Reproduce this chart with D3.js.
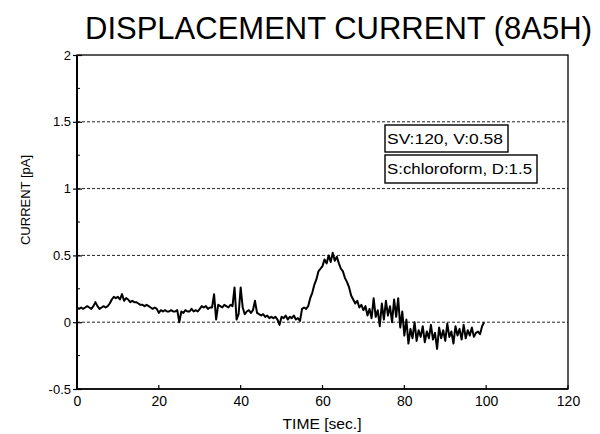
<!DOCTYPE html>
<html><head><meta charset="utf-8">
<script src="https://cdn.jsdelivr.net/npm/d3@7/dist/d3.min.js"></script>
<style>body{margin:0;background:#fff}svg{display:block}text{font-family:"Liberation Sans",Arial,sans-serif;fill:#000}</style>
</head><body><svg id="c" width="600" height="434"></svg>
<script>
// Data (time step 0.5 s, starting at 0)
const timeStep = 0.5;
const current = [
 0.11,0.10,0.11,0.10,0.11,0.12,0.11,0.10,0.12,0.15,
 0.12,0.10,0.11,0.12,0.11,0.12,0.14,0.17,0.19,0.18,
 0.19,0.17,0.21,0.16,0.18,0.17,0.15,0.16,0.15,0.15,
 0.14,0.13,0.13,0.12,0.13,0.12,0.11,0.10,0.11,0.10,
 0.07,0.09,0.08,0.09,0.08,0.08,0.09,0.08,0.08,0.09,
 0.00,0.08,0.07,0.09,0.08,0.08,0.10,0.08,0.09,0.08,
 0.10,0.12,0.11,0.12,0.10,0.11,0.11,0.21,0.02,0.13,
 0.12,0.11,0.13,0.12,0.11,0.13,0.12,0.26,0.02,0.06,
 0.26,0.11,0.06,0.08,0.09,0.07,0.09,0.16,0.07,0.06,
 0.05,0.06,0.04,0.05,0.03,0.04,0.03,0.04,0.02,-0.02,
 0.04,0.03,0.05,0.02,0.04,0.03,0.05,0.02,0.03,0.01,
 0.10,0.11,0.10,0.12,0.18,0.22,0.28,0.32,0.38,0.40,
 0.42,0.47,0.44,0.50,0.45,0.52,0.46,0.49,0.44,0.40,
 0.38,0.33,0.30,0.26,0.20,0.17,0.14,0.16,0.11,0.13,
 0.09,0.12,0.05,0.10,0.03,0.18,0.04,0.09,-0.03,0.14,
 0.02,0.16,0.05,0.12,0.00,0.17,0.04,0.18,-0.04,0.08,
 -0.10,0.02,-0.16,-0.05,-0.12,0.00,-0.14,-0.06,-0.11,-0.03,
 -0.15,-0.07,-0.12,-0.02,-0.13,-0.08,-0.20,-0.04,-0.12,-0.06,
 -0.14,-0.01,-0.11,-0.07,-0.16,-0.03,-0.10,-0.05,-0.13,-0.02,
 -0.12,-0.06,-0.10,-0.04,-0.11,-0.08,-0.07,-0.09,-0.03,0.00
];
const xTicks = [0,20,40,60,80,100,120];
const yTicks = [-0.5,0,0.5,1,1.5,2];
const yTickLabels = ["-0.5","0","0.5","1","1.5","2"];
const gridValues = [0,0.5,1,1.5];
const title = "DISPLACEMENT CURRENT (8A5H)";
const xTitle = "TIME [sec.]";
const yTitle = "CURRENT [pA]";
const legendLines = ["SV:120, V:0.58","S:chloroform, D:1.5"];

const svg = d3.select("#c");
const L=77, R=568, T=55, B=389;
const x = d3.scaleLinear().domain([0,120]).range([L,R]);
const y = d3.scaleLinear().domain([-0.5,2]).range([B,T]);

// title
svg.append("text").attr("x",85).attr("y",39).attr("font-size",31)
  .attr("textLength",507).attr("lengthAdjust","spacingAndGlyphs").text(title);

// grid
svg.append("g").selectAll("line").data(gridValues).join("line")
  .attr("x1",L).attr("x2",R).attr("y1",d=>y(d)).attr("y2",d=>y(d))
  .attr("stroke","#222").attr("stroke-width",1).attr("stroke-dasharray","3,2");

// frame
svg.append("rect").attr("x",L).attr("y",T).attr("width",R-L).attr("height",B-T)
  .attr("fill","none").attr("stroke","#000").attr("stroke-width",1.3);
svg.append("line").attr("x1",L).attr("x2",L).attr("y1",T).attr("y2",B).attr("stroke","#000").attr("stroke-width",2);
svg.append("line").attr("x1",L).attr("x2",R).attr("y1",B).attr("y2",B).attr("stroke","#000").attr("stroke-width",1.6);

// y axis
const yAxis = d3.axisLeft(y).tickValues(yTicks).tickSize(5).tickFormat((d,i)=>yTickLabels[i]);
const gy = svg.append("g").attr("transform",`translate(${L},0)`).call(yAxis);
gy.select(".domain").remove();
gy.selectAll(".tick line").attr("x2",5).attr("x1",-4).attr("stroke","#000").attr("stroke-width",1.2);
gy.selectAll(".tick text").attr("x",-6).attr("font-size",13).attr("font-family","Liberation Sans, Arial").attr("fill","#000");
// minor y ticks
const minor = d3.range(-0.25,2,0.5);
svg.append("g").selectAll("line").data(minor).join("line")
  .attr("x1",L).attr("x2",L+3).attr("y1",d=>y(d)).attr("y2",d=>y(d)).attr("stroke","#000");

// x axis
const xAxis = d3.axisBottom(x).tickValues(xTicks).tickSize(0).tickPadding(7);
const gx = svg.append("g").attr("transform",`translate(0,${B})`).call(xAxis);
gx.select(".domain").remove();
gx.selectAll(".tick text").attr("font-size",14).attr("font-family","Liberation Sans, Arial").attr("fill","#000");
svg.append("g").selectAll("line").data(xTicks).join("line")
  .attr("x1",d=>x(d)).attr("x2",d=>x(d)).attr("y1",B).attr("y2",B-4).attr("stroke","#000").attr("stroke-width",1.2);

// axis titles
svg.append("text").attr("x",322).attr("y",429).attr("text-anchor","middle").attr("font-size",14)
  .attr("textLength",79).attr("lengthAdjust","spacingAndGlyphs").text(xTitle);
svg.append("text").attr("transform","translate(30,200) rotate(-90)").attr("text-anchor","middle")
  .attr("font-size",13).text(yTitle);

// data line
const line = d3.line().x((d,i)=>x(i*timeStep)).y(d=>y(d));
svg.append("path").datum(current).attr("d",line).attr("fill","none")
  .attr("stroke","#000").attr("stroke-width",2).attr("stroke-linejoin","round");

// legend boxes
const boxes = [{x:385,y:125,w:123,h:27},{x:385,y:155,w:152,h:28}];
const tl = [116,145];
boxes.forEach((b,i)=>{
  svg.append("rect").attr("x",b.x).attr("y",b.y).attr("width",b.w).attr("height",b.h)
    .attr("fill","#fff").attr("stroke","#000").attr("stroke-width",1.4);
  svg.append("text").attr("x",b.x+2).attr("y",b.y+b.h/2+5).attr("font-size",14)
    .attr("textLength",tl[i]).attr("lengthAdjust","spacingAndGlyphs").text(legendLines[i]);
});
</script></body></html>
